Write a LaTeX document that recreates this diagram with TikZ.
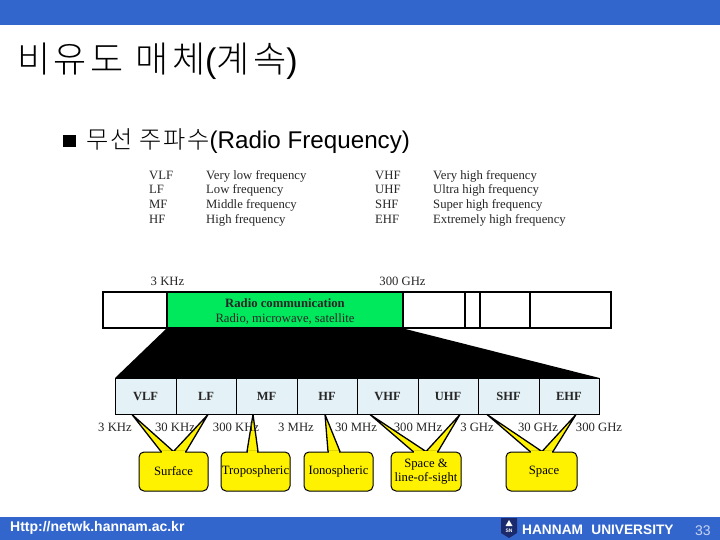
\documentclass[tikz,border=0pt]{standalone}
\usepackage{fontspec}
\setmainfont{Liberation Serif}
\newfontfamily\arl{Liberation Sans}
\newfontfamily\kor{Noto Sans CJK KR}[UprightFont=* Light,LetterSpace=7]
\newfontfamily\kort{Noto Sans CJK KR}[UprightFont=* Light,LetterSpace=10]
\definecolor{barblue}{HTML}{3366CC}
\definecolor{radiogreen}{HTML}{00E85C}
\definecolor{cellblue}{HTML}{E4F1F7}
\definecolor{calloutyellow}{HTML}{FFF200}
\definecolor{logonavy}{HTML}{1A2A6C}
\definecolor{pagenum}{HTML}{C8D4F0}
\tikzset{
  px/.style={font=\fontsize{#1}{#1}\selectfont},
  legend/.style={px=12.7,anchor=base west,inner sep=0pt,text=black!85},
  freq/.style={px=12.7,inner sep=0pt,text=black!85},
  cell/.style={draw=black,line width=1pt,fill=cellblue,minimum height=36pt,inner sep=0pt,font=\fontsize{12.5}{12.5}\selectfont\bfseries,text=black!85},
  callout/.style={draw=black,line width=1pt,fill=calloutyellow,rounded corners=5pt,minimum height=39pt,inner sep=0pt,align=center},
  tail/.style={draw=black,line width=1.3pt,fill=calloutyellow,line join=round},
  band/.style={draw=black,line width=1.1pt,minimum height=36pt,inner sep=0pt}
}
\begin{document}
\begin{tikzpicture}[x=1pt,y=-1pt]
\useasboundingbox (0,0) rectangle (720,540);
\fill[white] (0,0) rectangle (720,540);
\fill[barblue] (0,0) rectangle (720,25);
\fill[barblue] (0,517) rectangle (720,540);
% title
\node[anchor=base west,inner sep=0pt] (title) at (17,73) {\fontsize{36}{36}\selectfont\kort 비유도 매체\fontsize{34}{34}\selectfont\arl(\fontsize{36}{36}\selectfont\kort 계속\fontsize{34}{34}\selectfont\arl)};
\fill[black] (63,135) rectangle (76,147);
\node[anchor=base west,inner sep=0pt] (sub) at (86,149) {\fontsize{24.2}{24.2}\selectfont\kor 무선 주파수\arl(Radio Frequency)};
% legend
\node[legend] (l1) at (149,179.5) {VLF};
\node[legend] (l2) at (149,194) {LF};
\node[legend] (l3) at (149,208.5) {MF};
\node[legend] (l4) at (149,223) {HF};
\node[legend] (d1) at (206,179.5) {Very low frequency};
\node[legend] (d2) at (206,194) {Low frequency};
\node[legend] (d3) at (206,208.5) {Middle frequency};
\node[legend] (d4) at (206,223) {High frequency};
\node[legend] (l5) at (375,179.5) {VHF};
\node[legend] (l6) at (375,194) {UHF};
\node[legend] (l7) at (375,208.5) {SHF};
\node[legend] (l8) at (375,223) {EHF};
\node[legend] (d5) at (433,179.5) {Very high frequency};
\node[legend] (d6) at (433,194) {Ultra high frequency};
\node[legend] (d7) at (433,208.5) {Super high frequency};
\node[legend] (d8) at (433,223) {Extremely high frequency};
% top band
\node[freq] (f3k) at (167.5,281) {3 KHz};
\node[freq] (f300g) at (402.5,281) {300 GHz};
\node[band,minimum width=64pt] (b0) at (135,310) {};
\node[band,minimum width=236pt,fill=radiogreen] (radio) at (285,310) {};
\node[inner sep=0pt,align=center,text=black!85,font=\fontsize{12.7}{14.5}\selectfont] (radiotxt) at (285,311.5) {\textbf{Radio communication}\\Radio, microwave, satellite};
\node[band,minimum width=62pt] (b1) at (434,310) {};
\node[band,minimum width=15pt] (b2) at (472.5,310) {};
\node[band,minimum width=50pt] (b3) at (505,310) {};
\node[band,minimum width=81pt] (b4) at (570.5,310) {};
% black trapezoid
\coordinate (tl) at (115,378);
\coordinate (tr) at (599.5,378);
\fill[black] (radio.south west) -- (radio.south east) -- (tr) -- (tl) -- cycle;
% callouts
\node[callout,minimum width=69pt] (surface) at (173.5,471.5) {};
\node[callout,minimum width=69pt] (tropo) at (255.5,471.5) {};
\node[callout,minimum width=69pt] (iono) at (338.5,471.5) {};
\node[callout,minimum width=70pt] (los) at (426,471.5) {};
\node[callout,minimum width=71pt] (space) at (541.5,471.5) {};
% cells
\node[cell,minimum width=61pt] (vlf) at (145.5,396) {VLF};
\node[cell,minimum width=60pt] (lf) at (206,396) {LF};
\node[cell,minimum width=61pt] (mf) at (266.5,396) {MF};
\node[cell,minimum width=60pt] (hf) at (327,396) {HF};
\node[cell,minimum width=61pt] (vhf) at (387.5,396) {VHF};
\node[cell,minimum width=60pt] (uhf) at (448,396) {UHF};
\node[cell,minimum width=61pt] (shf) at (508.5,396) {SHF};
\node[cell,minimum width=60pt] (ehf) at (569,396) {EHF};
% tails, from the cells to the callouts
\draw[tail] ([xshift=-13.5pt]vlf.south) -- ([xshift=-12.5pt]surface.north) -- (surface.north) -- cycle;
\draw[tail] ([xshift=2pt]lf.south) -- ([xshift=12.5pt]surface.north) -- (surface.north) -- cycle;
\draw[tail] ([xshift=-13.5pt]mf.south) -- ([xshift=-8.5pt]tropo.north) -- ([xshift=2.5pt]tropo.north) -- cycle;
\draw[tail] ([xshift=-2pt]hf.south) -- ([xshift=-10.5pt]iono.north) -- ([xshift=1.5pt]iono.north) -- cycle;
\draw[tail] ([xshift=-17.5pt]vhf.south) -- ([xshift=-13pt]los.north) -- (los.north) -- cycle;
\draw[tail] ([xshift=12pt]uhf.south) -- ([xshift=12pt]los.north) -- (los.north) -- cycle;
\draw[tail] ([xshift=-21.5pt]shf.south) -- ([xshift=-11.5pt]space.north) -- ([xshift=0.5pt]space.north) -- cycle;
\draw[tail] ([xshift=7pt]ehf.south) -- ([xshift=11.5pt]space.north) -- ([xshift=0.5pt]space.north) -- cycle;
% hide tail bases
\foreach \a/\b in {161/186,247/258,328/340,413/438,530/553}
  \fill[calloutyellow] (\a+0.7,451.2) rectangle (\b-0.7,454);
% callout labels
\node[inner sep=0pt,px=12.7] (tSurface) at (surface.center) {Surface};
\node[inner sep=0pt,px=12.7] (tTropo) at (tropo.center) {Tropospheric};
\node[inner sep=0pt,px=12.7] (tIono) at (iono.center) {Ionospheric};
\node[inner sep=0pt,align=center,font=\fontsize{12.7}{14.5}\selectfont] (tLos) at (los.center) {Space \&\\line-of-sight};
\node[inner sep=0pt,px=12.7] (tSpace) at (544,471.5) {Space};
% freq labels
\node[freq] (a1) at (115,427) {3 KHz};
\node[freq] (a2) at (175,427) {30 KHz};
\node[freq] (a3) at (236,427) {300 KHz};
\node[freq] (a4) at (296,427) {3 MHz};
\node[freq] (a5) at (356,427) {30 MHz};
\node[freq] (a6) at (418,427) {300 MHz};
\node[freq] (a7) at (477,427) {3 GHz};
\node[freq] (a8) at (538,427) {30 GHz};
\node[freq] (a9) at (599,427) {300 GHz};
% footer
\node[anchor=west,inner sep=0pt,text=white,font=\arl\bfseries\fontsize{14}{14}\selectfont] (url) at (10,528) {Http://netwk.hannam.ac.kr};
\fill[logonavy] (501,518) -- (517,518) -- (517,533) -- (509,538) -- (501,533) -- cycle;
\fill[white] (509,520) -- (512.5,526) -- (505.5,526) -- cycle;
\node[inner sep=0pt,text=white,font=\arl\bfseries\fontsize{5}{5}\selectfont] (logo) at (509,531) {SN};
\node[anchor=west,inner sep=0pt,text=white,font=\arl\bfseries\fontsize{13.7}{13.7}\selectfont] (hannam) at (522,530) {HANNAM\hspace{4.5pt} UNIVERSITY};
\node[anchor=west,inner sep=0pt,text=pagenum,font=\arl\fontsize{14}{14}\selectfont] (page) at (695,530.5) {33};
\end{tikzpicture}
\end{document}
